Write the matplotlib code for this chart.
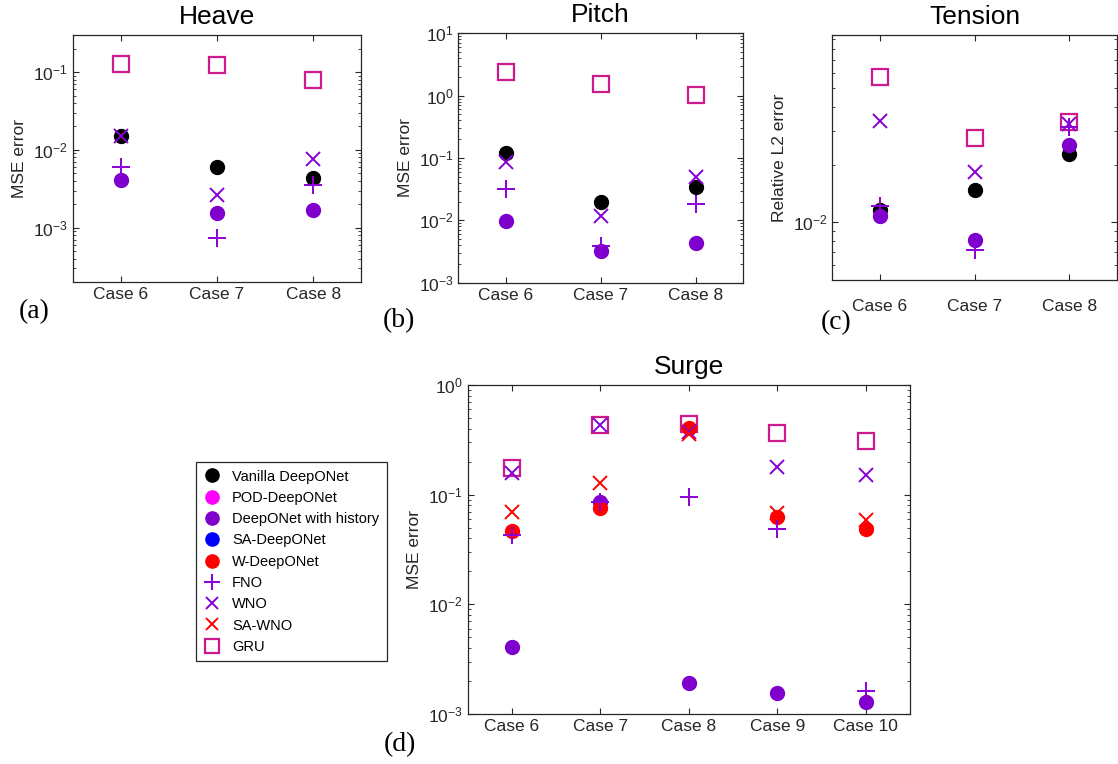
import matplotlib

matplotlib.use("Agg")
import matplotlib.pyplot as plt
import numpy as np
from matplotlib.lines import Line2D
from matplotlib.ticker import LogLocator, NullFormatter

plt.rcParams["font.family"] = ["Liberation Sans", "DejaVu Sans"]
plt.rcParams["mathtext.fontset"] = "custom"
plt.rcParams["mathtext.rm"] = "Liberation Sans"

# ---- data ----
cases_3 = [6, 7, 8]
case_labels_3 = ["Case 6", "Case 7", "Case 8"]

heave_vanilla = [0.0149, 0.0060, 0.0044]
heave_history = [0.0041, 0.00156, 0.0017]
heave_fno = [0.0061, 0.00074, 0.0035]
heave_wno = [0.0149, 0.00264, 0.0076]
heave_gru = [0.126, 0.123, 0.080]

pitch_vanilla = [0.119, 0.0194, 0.0337]
pitch_history = [0.0098, 0.0032, 0.0044]
pitch_fno = [0.0313, 0.00386, 0.0182]
pitch_wno = [0.085, 0.0117, 0.050]
pitch_gru = [2.42, 1.52, 1.02]

tension_vanilla = [0.01155, 0.0148, 0.0227]
tension_history = [0.0108, 0.00812, 0.0254]
tension_fno = [0.0121, 0.00721, 0.0313]
tension_wno = [0.0336, 0.0183, 0.0327]
tension_gru = [0.0575, 0.0275, 0.0332]

cases_5 = [6, 7, 8, 9, 10]
case_labels_5 = ["Case 6", "Case 7", "Case 8", "Case 9", "Case 10"]

surge_history = [0.0041, 0.0863, 0.00193, 0.00154, 0.00128]
surge_wdeeponet = [0.047, 0.076, 0.403, 0.062, 0.0486]
surge_fno = [0.0429, 0.085, 0.096, 0.0486, 0.00163]
surge_wno = [0.157, 0.432, 0.375, 0.180, 0.151]
surge_sawno = [0.069, 0.129, 0.357, 0.0676, 0.0587]
surge_gru = [0.174, 0.432, 0.438, 0.362, 0.308]

# ---- styles ----
C_BLACK = "#000000"
C_POD = "#ff00ff"
C_HIST = "#7f00cc"
C_SA = "#0000ff"
C_RED = "#ff0000"
C_PURPLE = "#8800d6"
C_GRU = "#cc1a8c"
AX_COL = "#262626"

dot = dict(marker="o", linestyle="none", markersize=10)
plus = dict(marker="+", linestyle="none", markersize=13, markeredgewidth=1.4)
cross = dict(marker="x", linestyle="none", markersize=9.5, markeredgewidth=1.4)
square = dict(marker="s", linestyle="none", markersize=11, markerfacecolor="none",
              markeredgewidth=1.6)


def style_axes(ax, cases, labels):
    ax.set_yscale("log")
    ax.set_xlim(cases[0] - 0.5, cases[-1] + 0.5)
    ax.set_xticks(cases)
    ax.set_xticklabels(labels)
    ax.yaxis.set_minor_locator(LogLocator(base=10, subs=np.arange(2, 10), numticks=20))
    ax.yaxis.set_minor_formatter(NullFormatter())
    ax.tick_params(which="both", direction="in", top=True, right=True,
                   colors=AX_COL, labelcolor=AX_COL, labelsize=12.5)
    ax.tick_params(which="major", length=4.5, width=0.8)
    ax.tick_params(which="minor", length=2.5, width=0.6)
    for sp in ax.spines.values():
        sp.set_color(AX_COL)
        sp.set_linewidth(0.9)


def draw_panel(ax, cases, vanilla, history, fno, wno, gru):
    ax.plot(cases, gru, color=C_GRU, markeredgecolor=C_GRU, **square)
    ax.plot(cases, vanilla, color=C_BLACK, **dot)
    ax.plot(cases, history, color=C_HIST, **dot)
    ax.plot(cases, fno, color=C_PURPLE, **plus)
    ax.plot(cases, wno, color=C_PURPLE, **cross)


fig = plt.figure(figsize=(11.18, 7.64), dpi=100)

ax_h = fig.add_axes([0.065, 0.6309, 0.2583, 0.3233])
ax_p = fig.add_axes([0.4099, 0.6300, 0.2547, 0.3264])
ax_t = fig.add_axes([0.7445, 0.6335, 0.2544, 0.3207])
ax_s = fig.add_axes([0.4183, 0.0654, 0.3956, 0.4306])

draw_panel(ax_h, cases_3, heave_vanilla, heave_history, heave_fno, heave_wno, heave_gru)
style_axes(ax_h, cases_3, case_labels_3)
ax_h.set_ylim(2e-4, 3e-1)
ax_h.set_title("Heave", fontsize=19, pad=8)
ax_h.set_ylabel("MSE error", fontsize=12.5, color=AX_COL)

draw_panel(ax_p, cases_3, pitch_vanilla, pitch_history, pitch_fno, pitch_wno, pitch_gru)
style_axes(ax_p, cases_3, case_labels_3)
ax_p.set_ylim(1e-3, 1e1)
ax_p.set_title("Pitch", fontsize=19, pad=8)
ax_p.set_ylabel("MSE error", fontsize=12.5, color=AX_COL)

draw_panel(ax_t, cases_3, tension_vanilla, tension_history, tension_fno, tension_wno,
           tension_gru)
style_axes(ax_t, cases_3, case_labels_3)
ax_t.set_ylim(5e-3, 9.5e-2)
ax_t.yaxis.set_minor_formatter(NullFormatter())
ax_t.tick_params(axis="x", pad=14)
ax_t.set_title("Tension", fontsize=19, pad=8)
ax_t.set_ylabel("Relative L2 error", fontsize=12.5, color=AX_COL)

ax_s.plot(cases_5, surge_gru, color=C_GRU, markeredgecolor=C_GRU, **square)
ax_s.plot(cases_5, surge_history, color=C_HIST, **dot)
ax_s.plot(cases_5, surge_wdeeponet, color=C_RED, **dot)
ax_s.plot(cases_5, surge_fno, color=C_PURPLE, **plus)
ax_s.plot(cases_5, surge_wno, color=C_PURPLE, **cross)
ax_s.plot(cases_5, surge_sawno, color=C_RED, **cross)
style_axes(ax_s, cases_5, case_labels_5)
ax_s.set_ylim(1e-3, 1e0)
ax_s.set_title("Surge", fontsize=19, pad=8)
ax_s.set_ylabel("MSE error", fontsize=12.5, color=AX_COL)

# panel letters
for x, y, s in [(0.031, 0.592, "(a)"), (0.357, 0.580, "(b)"), (0.748, 0.578, "(c)"),
                (0.358, 0.025, "(d)")]:
    fig.text(x, y, s, fontsize=20, family="Liberation Serif", ha="center", va="center")

handles = [
    Line2D([], [], color=C_BLACK, **dict(dot, markersize=9.5)),
    Line2D([], [], color=C_POD, **dict(dot, markersize=9.5)),
    Line2D([], [], color=C_HIST, **dict(dot, markersize=9.5)),
    Line2D([], [], color=C_SA, **dict(dot, markersize=9.5)),
    Line2D([], [], color=C_RED, **dict(dot, markersize=9.5)),
    Line2D([], [], color=C_PURPLE, **dict(plus, markersize=12)),
    Line2D([], [], color=C_PURPLE, **dict(cross, markersize=8)),
    Line2D([], [], color=C_RED, **dict(cross, markersize=8)),
    Line2D([], [], color=C_GRU, markeredgecolor=C_GRU, **dict(square, markersize=10)),
]
labels = ["Vanilla DeepONet", "POD-DeepONet", "DeepONet with history", "SA-DeepONet",
          "W-DeepONet", "FNO", "WNO", "SA-WNO", "GRU"]
leg = fig.legend(handles, labels, loc="upper left", bbox_to_anchor=(0.175, 0.395),
                 fontsize=10.5, frameon=True, fancybox=False, framealpha=1,
                 edgecolor=AX_COL, handlelength=1.2, handletextpad=0.8,
                 labelspacing=0.5, borderpad=0.5, borderaxespad=0)
leg.get_frame().set_linewidth(0.9)

fig.savefig("out.png", dpi=100)
